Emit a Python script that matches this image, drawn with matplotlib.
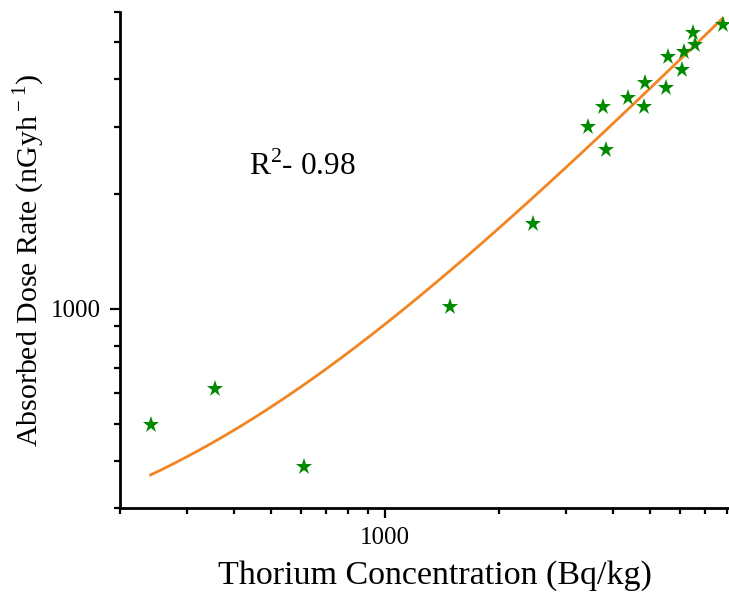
import numpy as np
import matplotlib
matplotlib.use("Agg")
import matplotlib.pyplot as plt
from matplotlib.ticker import LogLocator, NullFormatter, FixedFormatter, FixedLocator

# thorium concentration (Bq/kg) and absorbed dose rate (nGy/h)
thorium = [241, 356, 610, 1484, 2462, 3426, 3767, 3830, 4370, 4853,
           4833, 5591, 5513, 6151, 6066, 6509, 6577, 7780]
dose = [497, 617, 386, 1010, 1669, 2986, 3372, 2605, 3561, 3906,
        3372, 4567, 3790, 4708, 4229, 5284, 4921, 5534]

# linear fit shown as the orange curve
fit_intercept = 194.4
fit_slope = 0.716
r2_text = "0.98"

plt.rcParams["font.family"] = ["Liberation Serif", "DejaVu Serif"]
plt.rcParams["mathtext.fontset"] = "custom"
plt.rcParams["mathtext.rm"] = "Liberation Serif"

fig = plt.figure(figsize=(7.29, 5.95), dpi=100)
ax = fig.add_axes([0.1646, 0.1457, 0.8354, 0.8346])

xs = np.geomspace(min(thorium), max(thorium), 200)
ax.plot(xs, fit_intercept + fit_slope * xs, color="#f28522", lw=2, zorder=2)
ax.plot(thorium, dose, ls="none", marker="*", ms=12.5, color="#008a00",
        mew=0, zorder=3, clip_on=False)

ax.set_xscale("log")
ax.set_yscale("log")
ax.set_xlim(200, 8090)
ax.set_ylim(300, 6000)

for axis in (ax.xaxis, ax.yaxis):
    axis.set_major_locator(FixedLocator([1000]))
    axis.set_major_formatter(FixedFormatter(["1000"]))
    axis.set_minor_locator(LogLocator(base=10, subs=np.arange(2, 10)))
    axis.set_minor_formatter(NullFormatter())

ax.tick_params(which="major", length=7.5, width=1.6, labelsize=18, pad=6)
ax.tick_params(which="minor", length=4.5, width=1.6)

for side in ("top", "right"):
    ax.spines[side].set_visible(False)
for side in ("left", "bottom"):
    ax.spines[side].set_linewidth(2)

ax.set_xlabel("Thorium Concentration (Bq/kg)", fontsize=24.5, labelpad=8)
ax.xaxis.label.set_x(0.517)
ax.set_ylabel("Absorbed Dose Rate (nGyh$^{\\rm -1}$)", fontsize=21.5, labelpad=3)

fig.text(0.342, 0.72, "R$^{\\rm 2}$- " + r2_text, fontsize=22.5,
         va="center", ha="left")

fig.savefig("out.png", dpi=100)
